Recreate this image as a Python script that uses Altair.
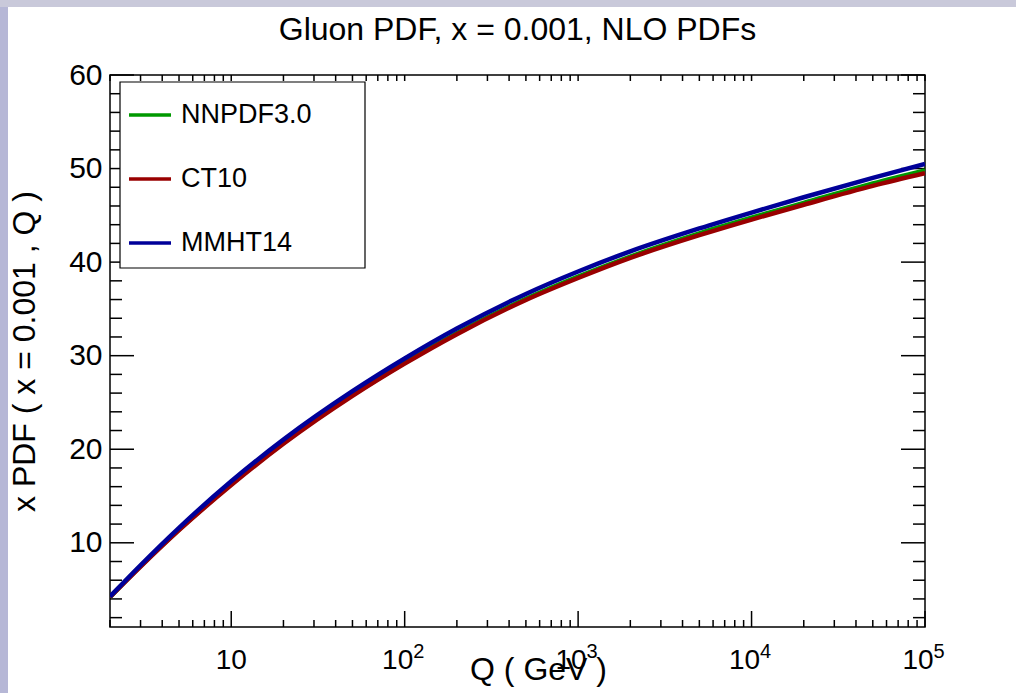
import altair as alt
import pandas as pd

# ---- data ----
Q = [2, 3, 5, 10, 20, 50, 100, 200, 500, 1000, 2000, 5000, 10000, 20000, 50000, 100000]
nnpdf = [4.2, 7.5, 11.4, 16.27, 20.68, 25.8, 29.25, 32.4, 36.07, 38.45, 40.6, 43.08, 44.75, 46.33, 48.4, 49.8]
ct10 = [4.2, 7.45, 11.35, 16.17, 20.58, 25.7, 29.15, 32.3, 35.95, 38.3, 40.45, 42.88, 44.55, 46.13, 48.15, 49.5]
mmht = [4.25, 7.6, 11.6, 16.57, 21.03, 26.2, 29.7, 32.9, 36.6, 39.0, 41.15, 43.6, 45.3, 46.93, 49.0, 50.5]

series_names = ["NNPDF3.0", "CT10", "MMHT14"]
series_colors = ["#009900", "#990000", "#000099"]

x_major = [10, 100, 1000, 10000, 100000]
x_tick_base = ["10", "10", "10", "10", "10"]
x_tick_exponents = ["", "2", "3", "4", "5"]
x_minor = [2, 3, 4, 5, 6, 7, 8, 9,
           20, 30, 40, 50, 60, 70, 80, 90,
           200, 300, 400, 500, 600, 700, 800, 900,
           2000, 3000, 4000, 5000, 6000, 7000, 8000, 9000,
           20000, 30000, 40000, 50000, 60000, 70000, 80000, 90000]
y_major = [10, 20, 30, 40, 50, 60]
y_minor = [2, 4, 6, 8, 12, 14, 16, 18, 22, 24, 26, 28, 32, 34, 36, 38,
           42, 44, 46, 48, 52, 54, 56, 58]

FONT = "Liberation Sans"
W, H = 815, 552

rows = []
for name, vals in zip(series_names, [nnpdf, ct10, mmht]):
    for q, v in zip(Q, vals):
        rows.append({"series": name, "Q": q, "pdf": v})
df = pd.DataFrame(rows)

xscale = alt.Scale(type="log", domain=[2, 100000], nice=False)
yscale = alt.Scale(domain=[1, 60], nice=False, zero=False)

x_axis = alt.Axis(values=x_major, labels=False, ticks=False, domain=False, grid=False,
                  title="Q ( GeV )", titleFont=FONT, titleFontSize=32, titleFontWeight="normal",
                  titleColor="black", titleX=428, titleY=52, titleBaseline="alphabetic",
                  titleAlign="center")
y_axis = alt.Axis(values=y_major, ticks=False, domain=False, grid=False,
                  labelFont=FONT, labelFontSize=30, labelColor="black", labelPadding=8,
                  labelFlush=False, labelOverlap=False,
                  title="x PDF ( x = 0.001 , Q )", titleFont=FONT, titleFontSize=32,
                  titleFontWeight="normal", titleColor="black", titleX=-76, titleY=276,
                  titleAngle=270, titleBaseline="alphabetic", titleAlign="center")

X = alt.X("Q:Q", scale=xscale, axis=x_axis)
Y = alt.Y("pdf:Q", scale=yscale, axis=y_axis)

legend = alt.Legend(title=None, orient="none", legendX=17, legendY=17, symbolType="stroke",
                    symbolSize=1764, symbolStrokeWidth=3.5, labelFont=FONT, labelFontSize=27,
                    labelColor="black", labelOffset=8, rowPadding=28, padding=0)
color = alt.Color("series:N", scale=alt.Scale(domain=series_names, range=series_colors),
                  legend=legend)

one = pd.DataFrame({"k": [0]})

# decorative page strips
strip_left = alt.Chart(one).mark_rect(color="#b6b7d6").encode(
    x=alt.value(-110), x2=alt.value(-102), y=alt.value(-75), y2=alt.value(H + 66))
strip_top = alt.Chart(one).mark_rect(color="#c9c9da").encode(
    x=alt.value(-110), x2=alt.value(W + 91), y=alt.value(-75), y2=alt.value(-68))

def yticks(vals, length):
    d = pd.DataFrame({"pdf": vals})
    left = alt.Chart(d).mark_rule(color="black", strokeWidth=1.5).encode(
        y=Y, x=alt.value(0), x2=alt.value(length))
    right = alt.Chart(d).mark_rule(color="black", strokeWidth=1.5).encode(
        y=Y, x=alt.value(W), x2=alt.value(W - length))
    return [left, right]

def xticks(vals, length_bottom, length_top):
    d = pd.DataFrame({"Q": vals})
    bottom = alt.Chart(d).mark_rule(color="black", strokeWidth=1.5).encode(
        x=X, y=alt.value(H), y2=alt.value(H - length_bottom))
    top = alt.Chart(d).mark_rule(color="black", strokeWidth=1.5).encode(
        x=X, y=alt.value(0), y2=alt.value(length_top))
    return [bottom, top]

tick_layers = yticks(y_minor, 12) + yticks(y_major, 24) + xticks(x_minor, 7, 6) + xticks(x_major, 16, 6)

# x tick labels: "10" with a raised exponent
lab = pd.DataFrame({"Q": x_major, "base": x_tick_base, "exp": x_tick_exponents})
base_plain = alt.Chart(lab).transform_filter(alt.datum.exp == "").mark_text(
    font=FONT, fontSize=28, color="black", align="center", baseline="alphabetic"
).encode(x=X, y=alt.value(H + 42), text="base:N")
base_pow = alt.Chart(lab).transform_filter(alt.datum.exp != "").mark_text(
    font=FONT, fontSize=28, color="black", align="center", baseline="alphabetic", dx=-7
).encode(x=X, y=alt.value(H + 42), text="base:N")
expo = alt.Chart(lab).transform_filter(alt.datum.exp != "").mark_text(
    font=FONT, fontSize=20, color="black", align="left", baseline="alphabetic", dx=8.5
).encode(x=X, y=alt.value(H + 31), text="exp:N")

legend_box = alt.Chart(one).mark_rect(fill="white", stroke="black", strokeWidth=1.2).encode(
    x=alt.value(10), x2=alt.value(255), y=alt.value(7), y2=alt.value(193))

line_layers = []
for name in series_names:
    line_layers.append(
        alt.Chart(df).transform_filter(alt.datum.series == name)
        .mark_line(strokeWidth=4.5, clip=True, interpolate="monotone")
        .encode(x=X, y=Y, color=color)
    )

chart = alt.layer(
    strip_left, strip_top, *tick_layers, base_plain, base_pow, expo, legend_box, *line_layers
).properties(
    width=W, height=H,
    title=alt.TitleParams("Gluon PDF, x = 0.001, NLO PDFs", font=FONT, fontSize=32,
                          fontWeight="normal", color="black", anchor="middle",
                          baseline="alphabetic", offset=-72),
    autosize=alt.AutoSizeParams(type="none"),
    padding={"left": 110, "top": 75, "right": 91, "bottom": 66},
    background="white",
).configure_view(stroke="black", strokeWidth=1.5)

chart.save("out.html", embed_options={"renderer": "svg", "actions": False})
